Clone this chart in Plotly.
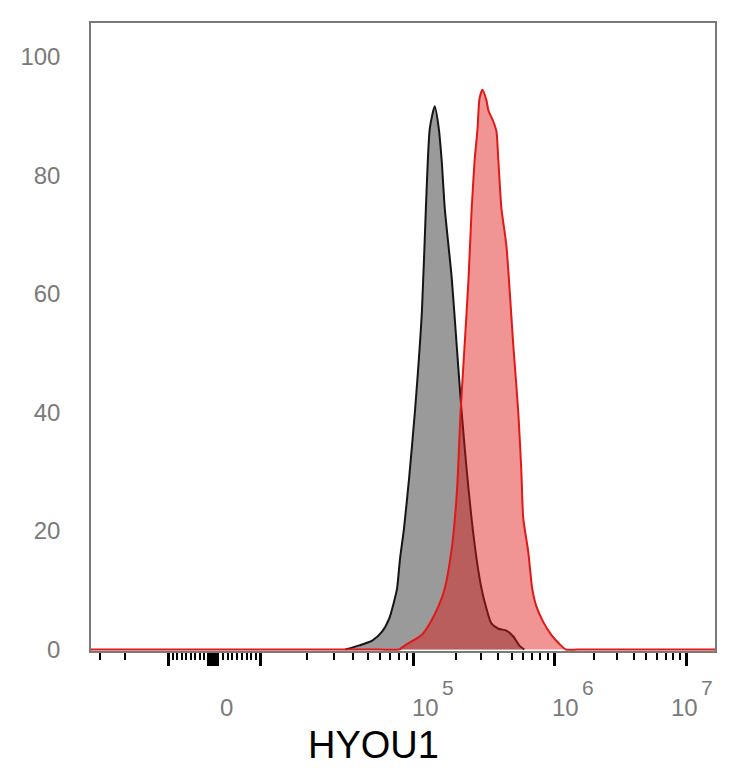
import numpy as np
import plotly.graph_objects as go

# ── data (HYOU1 intensity, % of max) ─────────────────────────────────────────
ctrl_x = [35600, 44000, 53400, 61900, 68900, 74200, 77600, 81100, 86100, 92900,
          101600, 114000, 121700, 129800, 140800, 150400, 158000, 166000, 186200,
          201900, 219000, 237500, 257800, 279900, 303600, 329300, 357400, 400900,
          457100, 512100, 564600, 612900]
ctrl_y = [0, 0.7, 1.5, 3.0, 5.2, 8.1, 10.3, 15.3, 20.4, 28.8,
          40.1, 57.0, 74.4, 87.9, 91.6, 87.9, 82.3, 74.4, 62.6,
          51.3, 40.1, 30.5, 22.1, 15.3, 10.3, 6.9, 4.4, 3.5,
          3.2, 2.2, 0.7, 0]

hyou1_x = [-50000, -20000, -5000, 0, 5000, 20000, 40000, 60000,
           80000, 87500, 97000, 114000, 129800, 150400, 166000, 186200, 198700,
           205100, 215300, 230000, 245400, 257800, 270800, 284500, 293800, 308600,
           329300, 340100, 369300, 387900, 400900, 421100, 457100, 512100, 555400,
           583500, 603000, 654600, 698200, 745100, 835600, 952800, 1091000, 1231000,
           1500000, 2500000, 5000000, 10000000, 20000000]
hyou1_y = [0, 0, 0, 0, 0, 0, 0, 0,
           0, 0.7, 1.4, 2.5, 4.4, 7.4, 10.3, 17.0, 23.8,
           28.8, 40.1, 51.3, 62.6, 73.9, 82.3, 87.9, 92.9, 94.4,
           92.6, 90.9, 89.0, 87.4, 82.3, 74.4, 68.1, 51.3, 40.1,
           30.5, 22.1, 16.5, 10.3, 7.4, 4.7, 2.5, 1.0, 0,
           0, 0, 0, 0, 0]

y_ticks = [0, 20, 40, 60, 80, 100]
x_labels = [(0, '0', None), (1e5, '10', '5'), (1e6, '10', '6'), (1e7, '10', '7')]

# ── biexponential-like display scale (log above 1e4, linear near 0) ─────────
DECADES = [4, 5, 6, 7, 8]
DEC_POS = [258, 412, 553, 686, 819]
ZERO_POS = 210
LIN_W = 48
NEG_SCALE = 0.94


def biex(v):
    v = np.asarray(v, dtype=float)
    a = np.abs(v)
    lin = a / 1e4 * LIN_W
    lg = np.interp(np.log10(np.maximum(a, 1e4)), DECADES, DEC_POS) - ZERO_POS
    d = np.where(a < 1e4, lin, lg)
    return np.where(v < 0, ZERO_POS - d * NEG_SCALE, ZERO_POS + d)


major = [-1e4, 0, 1e4, 1e5, 1e6, 1e7] + [s * k * 100 for s in (-1, 1) for k in range(1, 11)]
minor = [-3e4, -2e4] + [s * k * 1000 for s in (-1, 1) for k in range(2, 10)]
minor += [k * 10 ** e for e in (4, 5, 6) for k in range(2, 10)]

fig = go.Figure()
fig.add_trace(go.Scatter(x=biex(ctrl_x), y=ctrl_y, mode='lines', fill='tozeroy',
                         fillcolor='#9a9a9a',
                         line=dict(color='#151515', width=2, shape='spline', smoothing=0.6)))
fig.add_trace(go.Scatter(x=biex(hyou1_x), y=hyou1_y, mode='lines', fill='tozeroy',
                         fillcolor='rgba(222,22,22,0.46)',
                         line=dict(color='#e01818', width=2, shape='spline', smoothing=0.6)))

# tick labels under the axis (slightly offset from the ticks, like the original)
shifts = {0: (5, None), 1e5: (-4, 26), 1e6: (-4, 26), 1e7: (-17, 13)}
for val, base, exp in x_labels:
    bs, es = shifts[val]
    xp = float(biex(val))
    fig.add_annotation(x=xp, xref='x', y=0, yref='paper', text=base, showarrow=False,
                       xanchor='left', yanchor='middle', xshift=bs, yshift=-56,
                       font=dict(size=24, color='#7a7a7a'))
    if exp:
        fig.add_annotation(x=xp, xref='x', y=0, yref='paper', text=exp, showarrow=False,
                           xanchor='left', yanchor='middle', xshift=es, yshift=-36,
                           font=dict(size=21, color='#7a7a7a'))

fig.add_annotation(x=0.452, xref='paper', y=0, yref='paper', text='HYOU1', showarrow=False,
                   xanchor='center', yanchor='middle', yshift=-94,
                   font=dict(size=38, color='black'))

# page has an 8px body margin, so the figure is 8px smaller and shifted
fig.update_layout(width=726, height=760, margin=dict(l=79, r=19, t=15, b=117),
                  plot_bgcolor='white', paper_bgcolor='white', showlegend=False,
                  font=dict(family='Liberation Sans, Arial, sans-serif'))
fig.update_xaxes(range=[87, 715], showgrid=False, zeroline=False, showline=True,
                 linecolor='#7a7a7a', linewidth=1.5, mirror=True,
                 tickmode='array', tickvals=biex(major), ticks='outside', ticklen=13,
                 tickwidth=3, tickcolor='black', showticklabels=False,
                 minor=dict(tickmode='array', tickvals=biex(minor), ticks='outside',
                            ticklen=7, tickwidth=1.5, tickcolor='black'))
fig.update_yaxes(range=[-0.25, 105.65], showgrid=False, zeroline=False, showline=True,
                 linecolor='#7a7a7a', linewidth=1.5, mirror=True,
                 tickmode='array', tickvals=y_ticks, ticks='', ticklabelstandoff=24,
                 tickfont=dict(size=24, color='#7a7a7a'))

fig.write_html('out.html')
